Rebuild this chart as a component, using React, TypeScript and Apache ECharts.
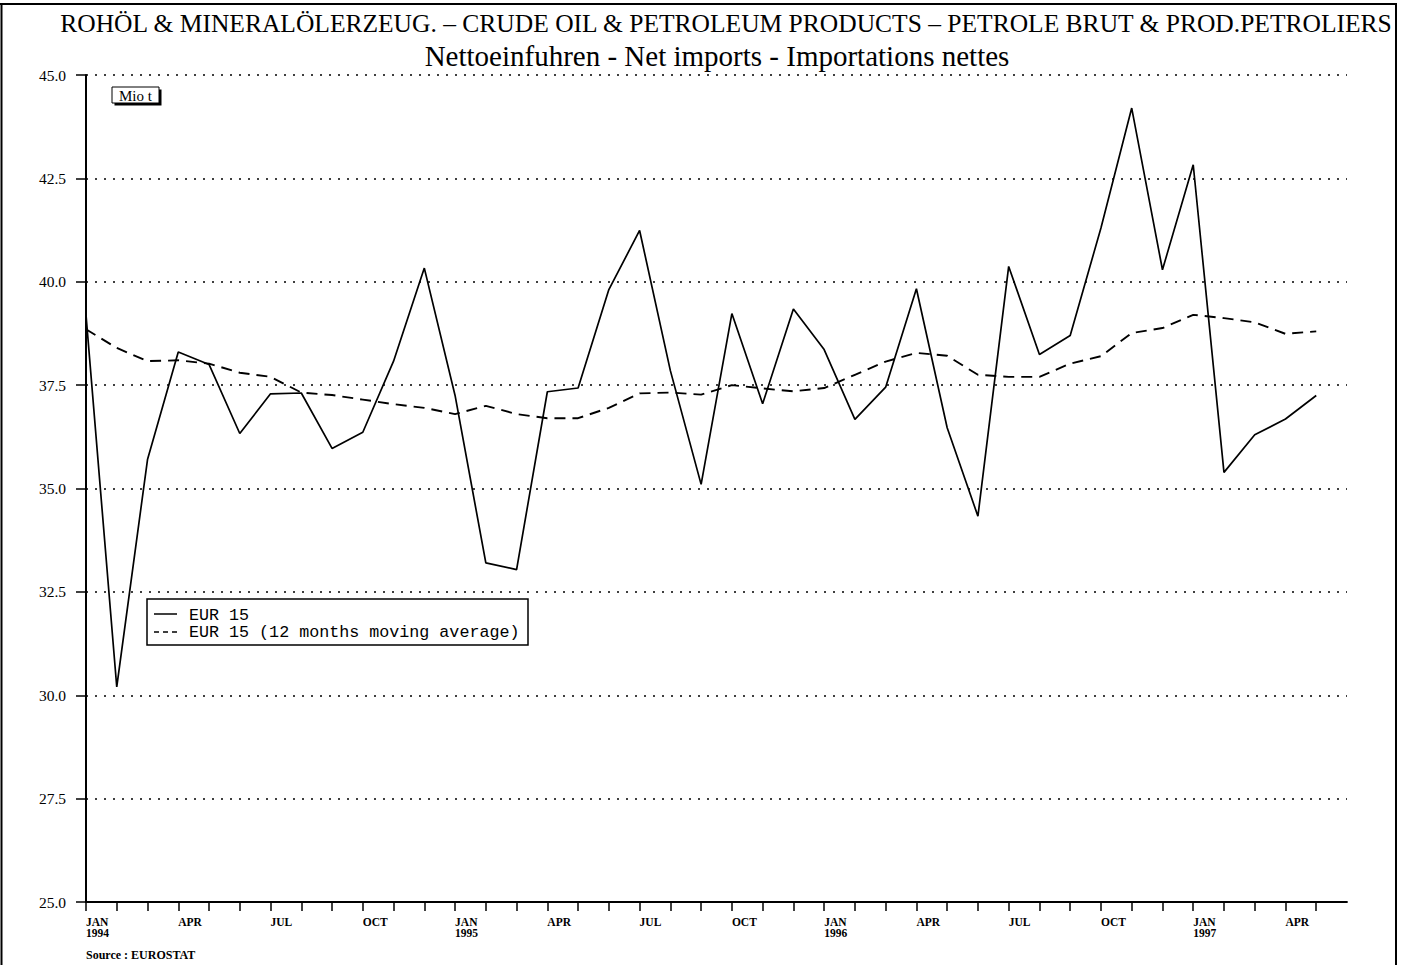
import React, { useEffect, useRef } from "react";
import * as echarts from "echarts";

const MONTHS = ["JAN", "FEB", "MAR", "APR", "MAY", "JUN", "JUL", "AUG", "SEP", "OCT", "NOV", "DEC"];
const YEARS = [1994, 1995, 1996, 1997];
// Jan 1994 .. Jun 1997 (axis runs one month past the last value)
const categories: string[] = [];
YEARS.forEach((y) => MONTHS.forEach((m, i) => { if (y < 1997 || i < 6) categories.push(`${m} ${y}`); }));

const netImports = [
  39.2, 30.2, 35.7, 38.3, 38.0, 36.33, 37.29, 37.31, 35.97, 36.36, 38.08, 40.33,
  37.25, 33.2, 33.04, 37.34, 37.43, 39.81, 41.24, 37.85, 35.1, 39.23, 37.05, 39.34,
  38.36, 36.67, 37.45, 39.83, 36.47, 34.33, 40.37, 38.24, 38.7, 41.3, 44.2, 40.29,
  42.83, 35.39, 36.3, 36.68, 37.25,
];
const movingAverage = [
  38.85, 38.4, 38.08, 38.1, 38.02, 37.8, 37.7, 37.32, 37.26, 37.15, 37.04, 36.95,
  36.8, 37.0, 36.8, 36.7, 36.7, 36.95, 37.3, 37.32, 37.27, 37.5, 37.42, 37.35,
  37.43, 37.75, 38.07, 38.28, 38.21, 37.75, 37.7, 37.7, 38.02, 38.2, 38.76, 38.88,
  39.2, 39.12, 39.02, 38.74, 38.8,
];
const seriesNames = ["EUR 15", "EUR 15 (12 months moving average)"];
const titleText = "ROHÖL & MINERALÖLERZEUG. – CRUDE OIL & PETROLEUM PRODUCTS – PETROLE BRUT & PROD.PETROLIERS";
const subtitleText = "Nettoeinfuhren - Net imports - Importations nettes";
const unitText = "Mio t";
const sourceText = "Source : EUROSTAT";

const SERIF = "'Liberation Serif', 'Times New Roman', serif";
const MONO = "'Liberation Mono', 'Courier New', monospace";

export default function App() {
  const ref = useRef<HTMLDivElement>(null);
  useEffect(() => {
    const chart = echarts.init(ref.current!, null, { renderer: "svg", width: 1402, height: 965 });
    const lastIdx = categories.length - 1;
    const option: any = {
      animation: false,
      backgroundColor: "#fff",
      grid: { left: 86, right: 55, top: 75, bottom: 63, containLabel: false },
      xAxis: {
        type: "category",
        data: categories,
        boundaryGap: false,
        axisLine: { lineStyle: { color: "#000", width: 1.8 } },
        axisTick: { interval: (i: number) => i < lastIdx, length: 9, lineStyle: { color: "#000", width: 1.5 } },
        axisLabel: {
          interval: (i: number) => i % 3 === 0 && i < lastIdx,
          formatter: (v: string) => {
            const [m, y] = v.split(" ");
            return m === "JAN" ? `${m}\n${y}` : m;
          },
          align: "left",
          margin: 14,
          fontFamily: SERIF,
          fontWeight: "bold",
          fontSize: 11.5,
          lineHeight: 11.5,
          color: "#000",
        },
        splitLine: { show: false },
      },
      yAxis: {
        type: "value",
        min: 25,
        max: 45,
        interval: 2.5,
        axisLine: { show: true, lineStyle: { color: "#000", width: 2 } },
        axisTick: { show: true, length: 10, lineStyle: { color: "#000", width: 1.5 } },
        axisLabel: {
          margin: 20,
          fontFamily: SERIF,
          fontSize: 15.5,
          color: "#000",
          formatter: (v: number) => v.toFixed(1),
        },
        splitLine: { show: true, lineStyle: { color: "#000", width: 1.6, type: [2, 7] } },
      },
      series: [
        {
          name: seriesNames[0],
          type: "line",
          data: netImports,
          symbol: "none",
          lineStyle: { color: "#000", width: 1.7 },
          z: 4,
        },
        {
          name: seriesNames[1],
          type: "line",
          data: movingAverage,
          symbol: "none",
          lineStyle: { color: "#000", width: 1.9, type: [11, 7] },
          z: 3,
        },
      ],
      graphic: [
        // outer frame
        { type: "line", shape: { x1: 0, y1: 4, x2: 1397, y2: 4 }, style: { stroke: "#000", lineWidth: 2 } },
        { type: "line", shape: { x1: 1.5, y1: 4, x2: 1.5, y2: 965 }, style: { stroke: "#000", lineWidth: 2 } },
        { type: "line", shape: { x1: 1396, y1: 4, x2: 1396, y2: 965 }, style: { stroke: "#000", lineWidth: 2 } },
        // titles
        {
          type: "text", x: 726, y: 23,
          style: { text: titleText, font: `25.5px ${SERIF}`, fill: "#000", textAlign: "center", textVerticalAlign: "middle" },
        },
        {
          type: "text", x: 717, y: 56,
          style: { text: subtitleText, font: `29px ${SERIF}`, fill: "#000", textAlign: "center", textVerticalAlign: "middle" },
        },
        // unit box
        { type: "rect", shape: { x: 114.5, y: 89.5, width: 47, height: 16 }, style: { fill: "#000" }, z: 10 },
        { type: "rect", shape: { x: 112, y: 87, width: 47, height: 16 }, style: { fill: "#fff", stroke: "#000", lineWidth: 1 }, z: 11 },
        {
          type: "text", x: 135.5, y: 95.5, z: 12,
          style: { text: unitText, font: `15px ${SERIF}`, fill: "#000", textAlign: "center", textVerticalAlign: "middle" },
        },
        // legend
        { type: "rect", shape: { x: 147, y: 599, width: 381, height: 46 }, style: { fill: "#fff", stroke: "#000", lineWidth: 1.5 }, z: 10 },
        { type: "line", shape: { x1: 154, y1: 614, x2: 177, y2: 614 }, style: { stroke: "#000", lineWidth: 1.5 }, z: 11 },
        { type: "line", shape: { x1: 154, y1: 632, x2: 177, y2: 632 }, style: { stroke: "#000", lineWidth: 1.5, lineDash: [5, 4] }, z: 11 },
        {
          type: "text", x: 189, y: 615, z: 11,
          style: { text: seriesNames[0], font: `16.7px ${MONO}`, fill: "#000", textVerticalAlign: "middle" },
        },
        {
          type: "text", x: 189, y: 632, z: 11,
          style: { text: seriesNames[1], font: `16.7px ${MONO}`, fill: "#000", textVerticalAlign: "middle" },
        },
        // source
        {
          type: "text", x: 86, y: 955,
          style: { text: sourceText, font: `bold 12px ${SERIF}`, fill: "#000", textVerticalAlign: "middle" },
        },
      ],
    };
    chart.setOption(option);
    return () => chart.dispose();
  }, []);
  return (
    <div
      ref={ref}
      style={{ position: "absolute", left: 0, top: 0, width: 1402, height: 965, background: "#fff" }}
    />
  );
}
